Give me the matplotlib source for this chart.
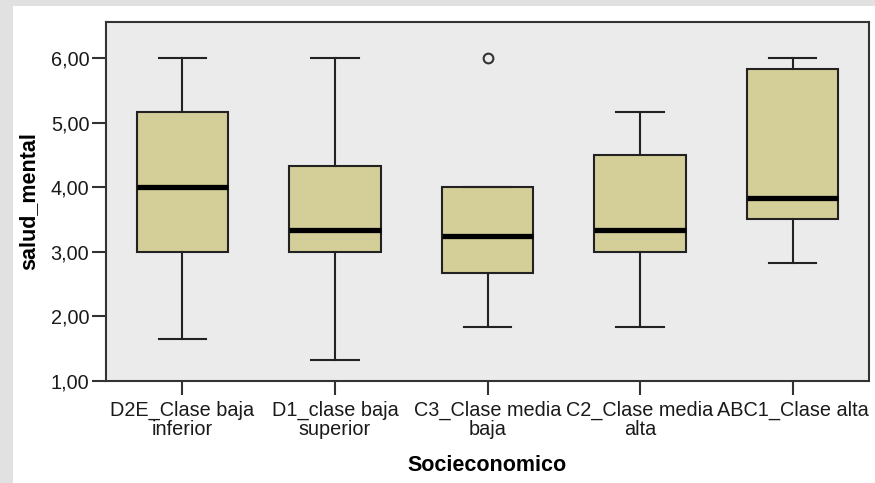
import matplotlib
matplotlib.use('Agg')
import matplotlib.pyplot as plt
from matplotlib.patches import Rectangle
from matplotlib.ticker import FuncFormatter

plt.rcParams['font.family'] = ['Liberation Sans', 'DejaVu Sans']

# Datos
categorias = ['D2E_Clase baja\ninferior', 'D1_clase baja\nsuperior', 'C3_Clase media\nbaja',
              'C2_Clase media\nalta', 'ABC1_Clase alta']
bigote_inf = [1.65, 1.33, 1.83, 1.83, 2.83]
q1 = [3.00, 3.00, 2.67, 3.00, 3.50]
mediana = [4.00, 3.33, 3.25, 3.33, 3.83]
q3 = [5.17, 4.33, 4.00, 4.50, 5.83]
bigote_sup = [6.00, 6.00, 4.00, 5.17, 6.00]
atipicos = [[], [], [6.00], [], []]

stats = []
for i in range(len(categorias)):
    stats.append({'whislo': bigote_inf[i], 'q1': q1[i], 'med': mediana[i],
                  'q3': q3[i], 'whishi': bigote_sup[i], 'fliers': atipicos[i]})

fig = plt.figure(figsize=(8.75, 4.83), dpi=100)
fig.patch.set_facecolor('#e1e1e1')
# panel blanco detras del grafico
fig.patches.append(Rectangle((13 / 875, 0), 1, 1 - 6 / 483, transform=fig.transFigure,
                             facecolor='white', edgecolor='none', zorder=-10))

ax = fig.add_axes([106 / 875, 102 / 483, 763 / 875, 359 / 483])
ax.set_facecolor('#ebebeb')

posiciones = list(range(len(categorias)))
ax.bxp(stats, positions=posiciones, widths=0.6, capwidths=0.31, patch_artist=True,
       boxprops=dict(facecolor='#d4cf98', edgecolor='#222222', linewidth=1.5),
       medianprops=dict(color='black', linewidth=3.8),
       whiskerprops=dict(color='#222222', linewidth=1.5),
       capprops=dict(color='#222222', linewidth=1.5),
       flierprops=dict(marker='o', markerfacecolor='none', markeredgecolor='#333333',
                       markersize=7, markeredgewidth=1.5))

ax.set_xlim(-0.5, 4.5)
ax.set_ylim(1.0, 6.557)
ax.set_yticks([1, 2, 3, 4, 5, 6])
ax.yaxis.set_major_formatter(FuncFormatter(lambda v, p: f'{v:.2f}'.replace('.', ',')))
ax.set_xticks(posiciones)
ax.set_xticklabels(categorias, linespacing=1.05)

ax.tick_params(axis='both', labelsize=14.3, length=10, width=1.5, color='#333333',
               labelcolor='#1a1a1a', pad=2)
ax.tick_params(axis='x', pad=4)
for s in ax.spines.values():
    s.set_linewidth(1.5)
    s.set_color('#333333')

ax.set_ylabel('salud_mental', fontsize=15.5, fontweight='bold', labelpad=8)
ax.set_xlabel('Socieconomico', fontsize=15.5, fontweight='bold', labelpad=11)

fig.savefig('out.png', dpi=100, facecolor=fig.get_facecolor())
plt.close()
